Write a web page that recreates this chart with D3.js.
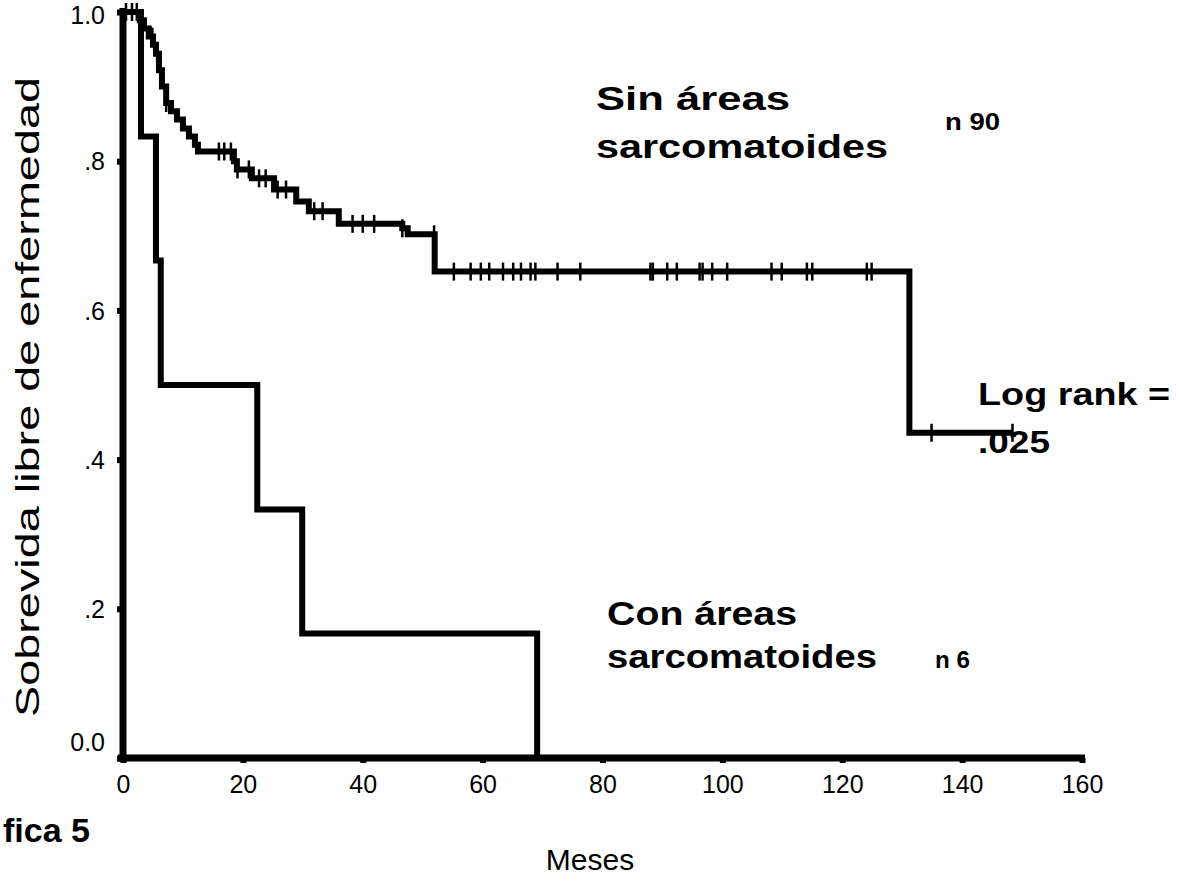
<!DOCTYPE html>
<html>
<head>
<meta charset="utf-8">
<script src="https://cdn.jsdelivr.net/npm/d3@7"></script>
<style>
  body { margin: 0; background: #fff; }
  text { font-family: "Liberation Sans", Arial, sans-serif; fill: #000; }
  .bold { font-weight: bold; }
</style>
</head>
<body>
<script>
// Sin áreas sarcomatoides (n 90): step times (months) and survival after each step
const sinTimes = [0, 2.8, 3.5, 4.3, 5.0, 5.5, 6.0, 6.5, 7.2, 8.0, 9.0, 10.0, 11.0, 12.0, 12.5,
                  18.5, 19.0, 21.5, 25.2, 28.9, 31.0, 36.0, 46.6, 47.5, 52.0, 131.2, 148.4];
const sinSurv  = [1.0, 0.989, 0.978, 0.967, 0.956, 0.944, 0.922, 0.9, 0.878, 0.867, 0.856, 0.844, 0.833, 0.822, 0.813,
                  0.8, 0.789, 0.777, 0.762, 0.746, 0.733, 0.716, 0.71, 0.702, 0.652, 0.436, 0.436];
const sinCensored = [0.5, 1.5, 2.3, 4.9, 5.7, 7.2, 16, 16.9, 18, 19.1, 21, 22.7, 23.8, 25.8, 27.2, 31.9, 33.3,
                     38.3, 40, 41.9, 46.6, 51.9, 55.2, 58, 59.7, 61.1, 63.4, 65.1, 66.4, 68, 68.8, 72.5, 76.3,
                     88, 88.4, 90.8, 92.4, 96.2, 96.7, 98.3, 100.8, 108.2, 109.9, 114.1, 115, 124.1, 124.9,
                     134.9, 148.4];

// Con áreas sarcomatoides (n 6)
const conTimes = [0, 3.0, 5.5, 6.3, 22.4, 29.9, 69.1];
const conSurv  = [1.0, 0.833, 0.667, 0.5, 0.333, 0.167, 0];

const xTicks = [0, 20, 40, 60, 80, 100, 120, 140, 160];
const yTicks = [0, 0.2, 0.4, 0.6, 0.8, 1.0];
const yTickLabels = ["0.0", ".2", ".4", ".6", ".8", "1.0"];

const width = 1179, height = 886;

const svg = d3.select("body").append("svg")
    .attr("width", width)
    .attr("height", height);

const x = d3.scaleLinear().domain([0, 160]).range([123, 1082]);
const y = d3.scaleLinear().domain([0, 1]).range([758, 12]);

// axes
const yAxis = d3.axisLeft(y)
    .tickValues(yTicks)
    .tickSize(6)
    .tickSizeOuter(0)
    .tickPadding(12)
    .tickFormat((d, i) => yTickLabels[i]);

const gy = svg.append("g")
    .attr("transform", `translate(${x(0)},0)`)
    .call(yAxis);
gy.select(".domain").attr("stroke-width", 7).attr("d", `M0,${y(1) - 4}V${y(0) + 4}`);
gy.selectAll(".tick line").attr("stroke-width", 6);
gy.selectAll(".tick text")
    .attr("font-size", 25)
    .attr("dy", d => d === 0 ? "-0.3em" : d === 1 ? "0.45em" : "0.35em");

const xAxis = d3.axisBottom(x)
    .tickValues(xTicks)
    .tickSize(5)
    .tickSizeOuter(0)
    .tickPadding(12);

const gx = svg.append("g")
    .attr("transform", `translate(0,${y(0)})`)
    .call(xAxis);
gx.select(".domain").attr("stroke-width", 7).attr("d", `M${x(0) - 5},0H${x(160) + 3}`);
gx.selectAll(".tick line").attr("stroke-width", 6);
gx.selectAll(".tick text").attr("font-size", 25);

// survival curves
const stepLine = d3.line()
    .x(d => x(d[0]))
    .y(d => y(d[1]))
    .curve(d3.curveStepAfter);

const sinData = sinTimes.map((t, i) => [t, sinSurv[i]]);
const conData = conTimes.map((t, i) => [t, conSurv[i]]);

svg.append("path")
    .attr("d", stepLine(conData))
    .attr("fill", "none")
    .attr("stroke", "#000")
    .attr("stroke-width", 6);

svg.append("path")
    .attr("d", stepLine(sinData))
    .attr("fill", "none")
    .attr("stroke", "#000")
    .attr("stroke-width", 6);

// censor marks
const survAt = t => {
    let s = sinSurv[0];
    sinTimes.forEach((tt, i) => { if (tt <= t) s = sinSurv[i]; });
    return s;
};

svg.append("g").selectAll("line")
    .data(sinCensored)
    .join("line")
    .attr("x1", d => x(d)).attr("x2", d => x(d))
    .attr("y1", d => y(survAt(d)) - 9)
    .attr("y2", d => y(survAt(d)) + 9)
    .attr("stroke", "#000")
    .attr("stroke-width", 2.5);

// labels
svg.append("text")
    .attr("transform", "translate(39,397) rotate(-90)")
    .attr("text-anchor", "middle")
    .attr("font-size", 33)
    .attr("textLength", 640)
    .attr("lengthAdjust", "spacingAndGlyphs")
    .text("Sobrevida libre de enfermedad");

svg.append("text")
    .attr("x", 590).attr("y", 870)
    .attr("text-anchor", "middle")
    .attr("font-size", 30)
    .text("Meses");

svg.append("text")
    .attr("class", "bold")
    .attr("x", 90).attr("y", 842)
    .attr("text-anchor", "end")
    .attr("font-size", 34)
    .text("fica 5");

// annotations
const note = (txt, xx, yy, size, len) => {
    const t = svg.append("text")
        .attr("class", "bold")
        .attr("x", xx).attr("y", yy)
        .attr("font-size", size)
        .text(txt);
    if (len) t.attr("textLength", len).attr("lengthAdjust", "spacingAndGlyphs");
};

note("Sin áreas", 596, 110, 34, 194);
note("sarcomatoides", 596, 158, 34, 292);
note("n 90", 945, 130, 24, 55);
note("Log rank =", 978, 405, 32, 192);
note(".025", 978, 453, 32, 72);
note("Con áreas", 607, 625, 34, 190);
note("sarcomatoides", 607, 668, 34, 270);
note("n 6", 935, 668, 24, 35);
</script>
</body>
</html>
